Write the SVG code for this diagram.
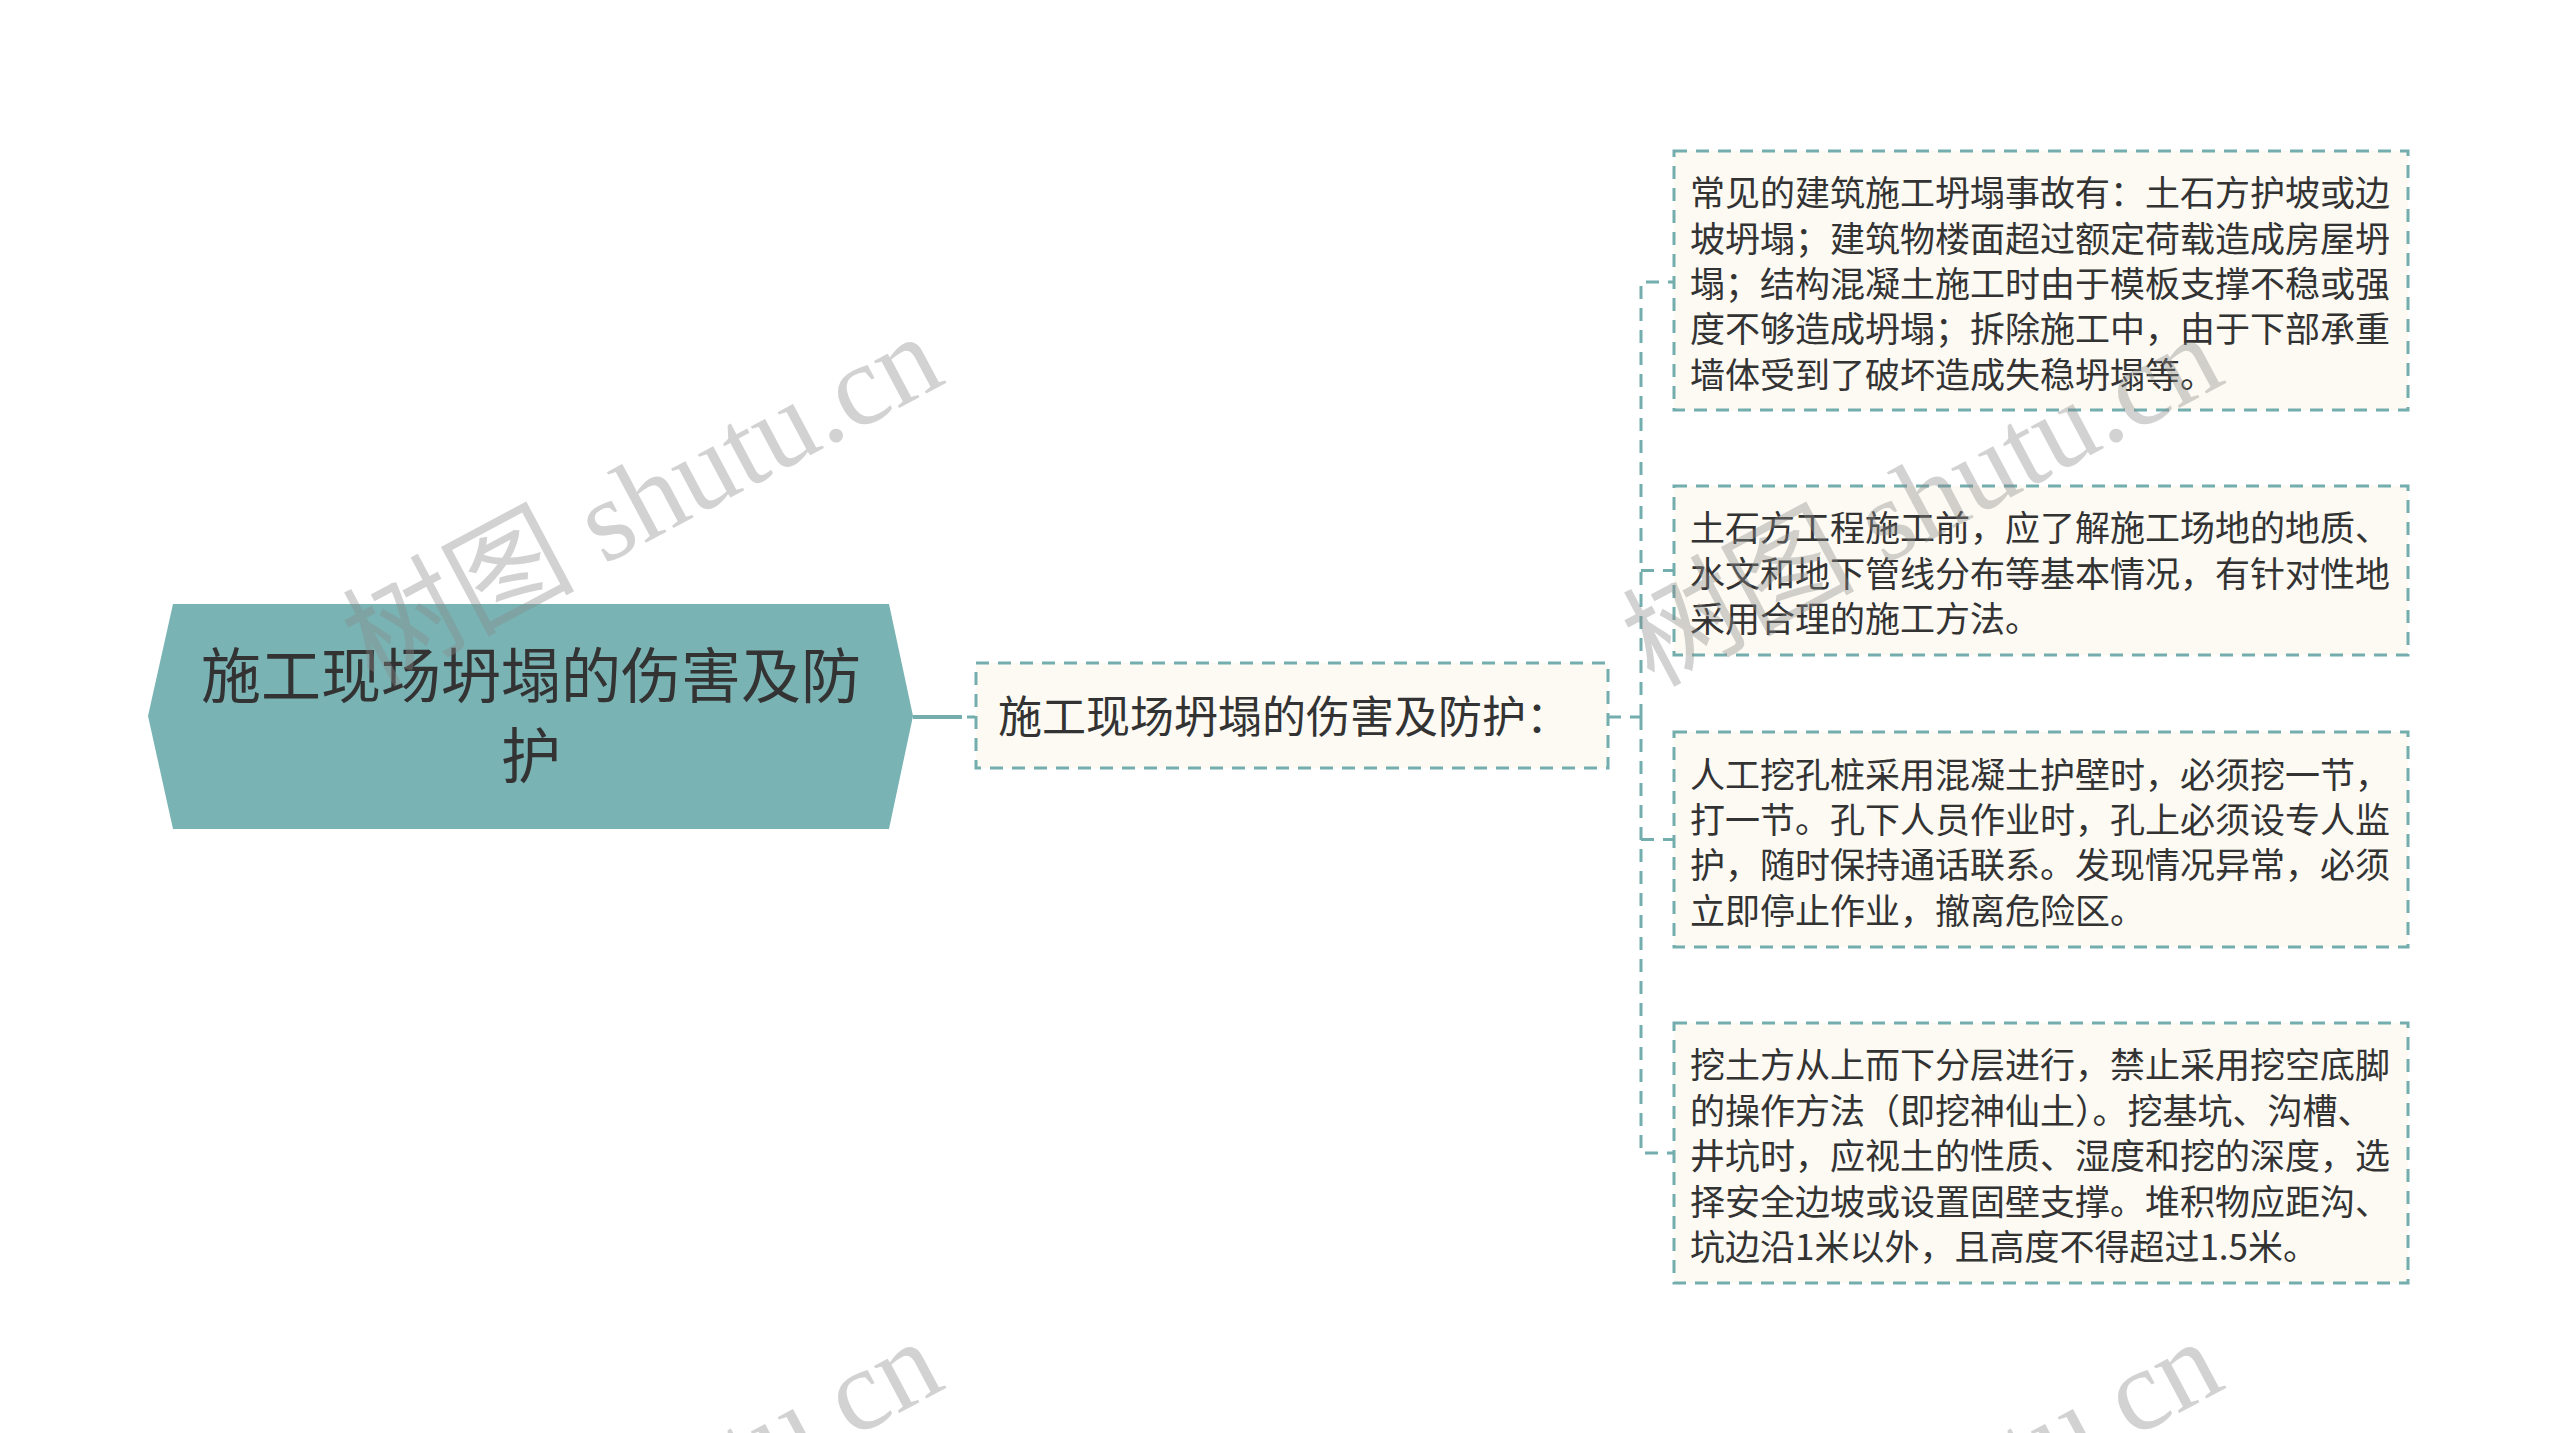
<svg xmlns="http://www.w3.org/2000/svg" width="2560" height="1433" viewBox="0 0 2560 1433">
<style>
.cjk{font-family:"Noto Sans CJK SC","Microsoft YaHei",sans-serif;fill:#333333}
.root{font-size:60px;text-anchor:middle}
.child{font-size:44px}
.leaf{font-size:35px}
.box{fill:#FCFAF3;stroke:#73ADAE;stroke-width:3;stroke-dasharray:13 9}
.conn{fill:none;stroke:#73ADAE;stroke-width:3;stroke-dasharray:13 9}
.wm{font-family:"Liberation Serif","Noto Sans CJK SC",serif;font-size:116px;fill:#8a8a8a;opacity:0.38;text-anchor:end}
</style>
<rect width="2560" height="1433" fill="#ffffff"/>
<g id="connectors">
<line x1="913" y1="717" x2="962" y2="717" stroke="#73ADAE" stroke-width="4"/>
<line x1="967" y1="717" x2="975" y2="717" stroke="#73ADAE" stroke-width="3"/>
<path class="conn" d="M1608,717 H1641"/>
<path class="conn" d="M1641,717 V282 H1674"/>
<path class="conn" d="M1641,717 V1153 H1674"/>
<path class="conn" d="M1641,570.5 H1674"/>
<path class="conn" d="M1641,839.5 H1674"/>
</g>
<g id="root">
<polygon points="148,716 173,604 889,604 913,716 889,829 173,829" fill="#79B3B4"/>
<text class="cjk root" x="531" y="698">施工现场坍塌的伤害及防</text>
<text class="cjk root" x="531" y="778">护</text>
</g>
<g id="child">
<rect class="box" x="976" y="663" width="632" height="105"/>
<text class="cjk child" x="998" y="733">施工现场坍塌的伤害及防护：</text>
</g>
<g id="leaf1">
<rect class="box" x="1674" y="151" width="734" height="259"/>
<text class="cjk leaf" x="1690" y="206">常见的建筑施工坍塌事故有：土石方护坡或边</text>
<text class="cjk leaf" x="1690" y="251.5">坡坍塌；建筑物楼面超过额定荷载造成房屋坍</text>
<text class="cjk leaf" x="1690" y="297">塌；结构混凝土施工时由于模板支撑不稳或强</text>
<text class="cjk leaf" x="1690" y="342">度不够造成坍塌；拆除施工中，由于下部承重</text>
<text class="cjk leaf" x="1690" y="387.5">墙体受到了破坏造成失稳坍塌等。</text>
</g>
<g id="leaf2">
<rect class="box" x="1674" y="486" width="734" height="169"/>
<text class="cjk leaf" x="1690" y="541">土石方工程施工前，应了解施工场地的地质、</text>
<text class="cjk leaf" x="1690" y="587">水文和地下管线分布等基本情况，有针对性地</text>
<text class="cjk leaf" x="1690" y="632">采用合理的施工方法。</text>
</g>
<g id="leaf3">
<rect class="box" x="1674" y="732" width="734" height="215"/>
<text class="cjk leaf" x="1690" y="788">人工挖孔桩采用混凝土护壁时，必须挖一节，</text>
<text class="cjk leaf" x="1690" y="833">打一节。孔下人员作业时，孔上必须设专人监</text>
<text class="cjk leaf" x="1690" y="878">护，随时保持通话联系。发现情况异常，必须</text>
<text class="cjk leaf" x="1690" y="924">立即停止作业，撤离危险区。</text>
</g>
<g id="leaf4">
<rect class="box" x="1674" y="1023" width="734" height="260"/>
<text class="cjk leaf" x="1690" y="1078">挖土方从上而下分层进行，禁止采用挖空底脚</text>
<text class="cjk leaf" x="1690" y="1124">的操作方法（即挖神仙土）。挖基坑、沟槽、</text>
<text class="cjk leaf" x="1690" y="1169">井坑时，应视土的性质、湿度和挖的深度，选</text>
<text class="cjk leaf" x="1690" y="1215">择安全边坡或设置固壁支撑。堆积物应距沟、</text>
<text class="cjk leaf" x="1690" y="1260">坑边沿1米以外，且高度不得超过1.5米。</text>
</g>
<g id="watermarks">
<text class="wm" transform="translate(948,382) rotate(-28)">树图 shutu.cn</text>
<text class="wm" transform="translate(2228,382) rotate(-28)">树图 shutu.cn</text>
<text class="wm" transform="translate(948,1387) rotate(-28)">树图 shutu.cn</text>
<text class="wm" transform="translate(2228,1387) rotate(-28)">树图 shutu.cn</text>
</g>
</svg>
